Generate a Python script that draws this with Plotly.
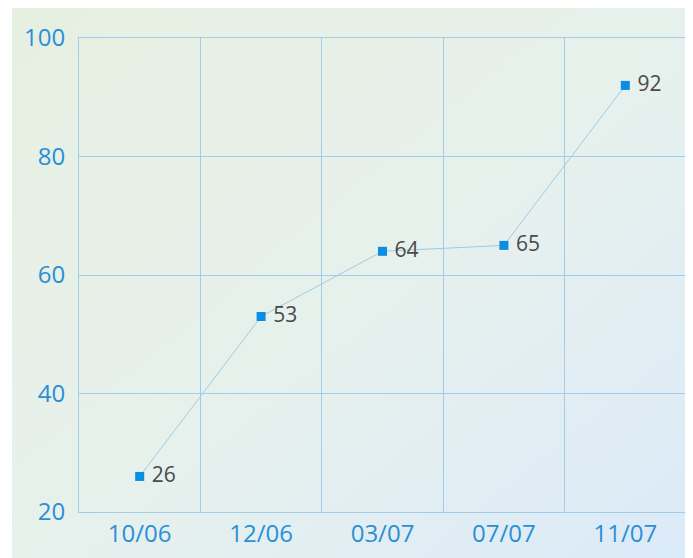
import base64
import plotly.graph_objects as go

categories = ["10/06", "12/06", "03/07", "07/07", "11/07"]
values = [26, 53, 64, 65, 92]
y_ticks = [20, 40, 60, 80, 100]

# page body has an 8px margin, so the figure is laid out offset by 8px
W, H = 685, 550
L, R, T, B = 71, 7, 30, 46

svg = (
    '<svg xmlns="http://www.w3.org/2000/svg" width="681" height="550" preserveAspectRatio="none">'
    '<defs><linearGradient id="g" x1="0" y1="0" x2="1" y2="1">'
    '<stop offset="0" stop-color="#e6f0e1"/>'
    '<stop offset="0.5" stop-color="#e7f1ec"/>'
    '<stop offset="1" stop-color="#dbeaf9"/>'
    '</linearGradient></defs>'
    '<rect width="681" height="550" fill="url(#g)"/></svg>'
)
src = "data:image/svg+xml;base64," + base64.b64encode(svg.encode()).decode()

pw = W - L - R
ph = H - T - B
x0 = (4 - L) / pw
y1 = 1 + T / ph

grid = "#a2cdea"

fig = go.Figure()
fig.add_trace(go.Scatter(
    x=categories, y=values,
    mode="lines+markers+text",
    line=dict(color="#9ccbe9", width=1),
    marker=dict(symbol="square", size=9, color="#0a8de3"),
    text=[" " + str(v) for v in values],
    textposition="middle right",
    textfont=dict(family="Open Sans", size=21, color="#4a4a4a"),
    cliponaxis=False,
))

fig.add_layout_image(dict(
    source=src, xref="paper", yref="paper",
    x=x0, y=y1, sizex=(W - 4) / pw, sizey=H / ph,
    xanchor="left", yanchor="top", sizing="stretch", layer="below",
))

axis_font = dict(family="Open Sans", size=24, color="#2a8fd6")
fig.update_layout(
    width=W, height=H,
    margin=dict(l=L, r=R, t=T, b=B, pad=0),
    paper_bgcolor="white",
    plot_bgcolor="rgba(0,0,0,0)",
    showlegend=False,
    xaxis=dict(
        type="category", tickson="boundaries", range=[-0.5, 4.5],
        showgrid=True, gridcolor=grid, gridwidth=1,
        showline=True, linecolor=grid, mirror=True,
        ticks="", tickfont=axis_font, zeroline=False,
    ),
    yaxis=dict(
        range=[20, 100], tickvals=y_ticks,
        showgrid=True, gridcolor=grid, gridwidth=1,
        showline=True, linecolor=grid, mirror=True,
        ticks="", tickfont=axis_font, zeroline=False, ticklabelstandoff=8,
    ),
)

fig.write_html("out.html")
